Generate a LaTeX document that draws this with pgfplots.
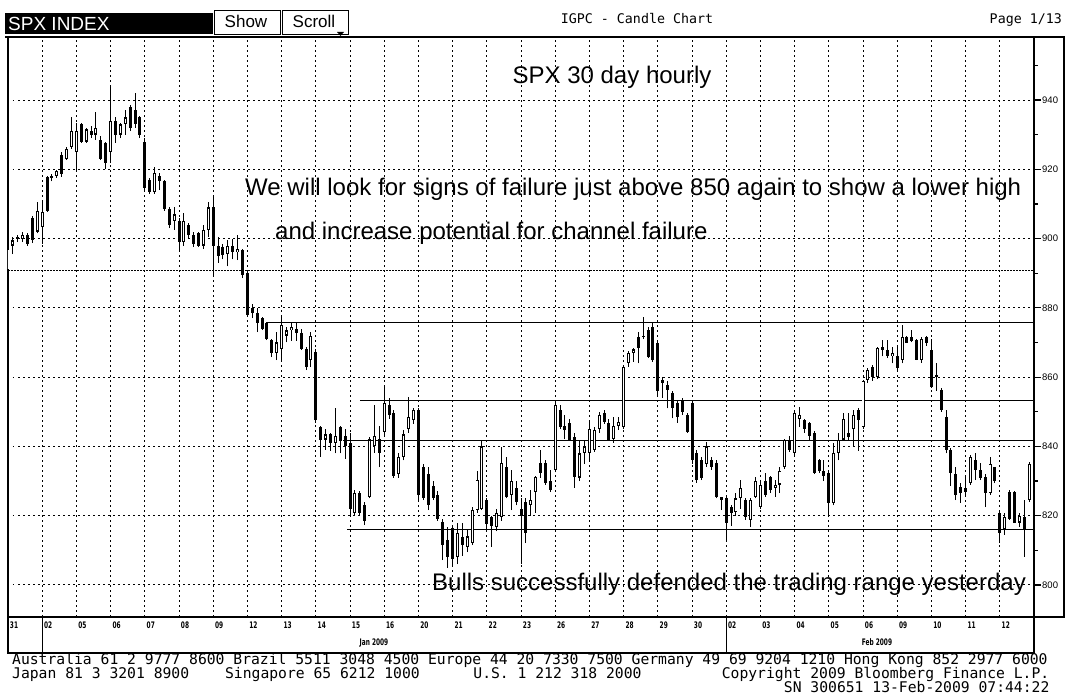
\documentclass[border=0pt]{standalone}
\usepackage{fontspec}
\setmainfont{Liberation Sans}
\newfontfamily\monof{DejaVu Sans Mono}
\newfontfamily\dayf[FakeStretch=0.65]{DejaVu Sans}
\usepackage{pgfplots}
\usepackage{pgfplotstable}
\pgfplotsset{compat=1.18}

\newcommand\ticksz{\fontsize{9.5}{9.5}\selectfont}
\newcommand\dayfs{\dayf\bfseries\fontsize{9}{9}\selectfont}
\newcommand\annot{\fontsize{24}{24}\selectfont}
\newcommand\mono{\monof\fontsize{14.7}{14.7}\selectfont}

% hourly candles, 7 per session: index, open, high, low, close
\pgfplotstableread{
i o h l c
0 891 897.6 890.9 897
1 898 900.5 895.5 899.5
2 900.5 901 899 900
3 900 902 899 901
4 901 901.5 898 898.5
5 906 906.5 898.7 899.5
6 902 910.7 901.5 908
7 903.4 910.7 898.5 907.7
8 917.8 918 907.7 908
9 917.5 918.5 916.5 918
10 918 919.8 917.5 919.5
11 924.1 925 917.8 918.5
12 923 926.4 922.7 926
13 926.5 935 926 931
14 925 933.5 919.8 931
15 933 933.5 927.6 928
16 928 932 927.6 931.5
17 931 932.5 929 930
18 930 936.5 928.5 932
19 928.5 929.5 922.7 923
20 927.6 928 920 921.8
21 925 943.8 921.8 934
22 934 935 927.6 930
23 930 933.5 929 933
24 933 937 930 935
25 938 938.5 931 932
26 937 942 932 933
27 935 935.5 929 930
28 928 929 914 914.5
29 917 917.5 913 913.5
30 913.5 920.7 913 919
31 918 919 914 916.5
32 916.5 917 908 908.5
33 908.5 909 903 904
34 905 909 902.5 907
35 905 906 896.7 899
36 899 907.5 898 905
37 904 904.5 900 901
38 901 902 897.5 898.5
39 901.5 902 897.5 898
40 898 904 897 902.5
41 902.5 910.5 900.5 909
42 909 912 889 898
43 898 900.5 893 895
44 897.6 898.5 894 895.3
45 895.5 899.5 892 898
46 898 900 894 896
47 896 901 893.8 897
48 896.7 897 888.6 889.5
49 890 891 877.4 878
50 880 881 877 878.5
51 878.5 880 873 875.6
52 877 877.4 873.6 874
53 875.6 876 870.7 871
54 870.7 871 865.8 867
55 867 873 864.9 870
56 868 877.4 864.9 875
57 872 874.5 870 873.5
58 873.5 875.6 870.5 874.5
59 874 876 870.5 872.7
60 872.7 874 867.8 868
61 868 868.7 862 863
62 865 873 862.9 872
63 867.2 868 846.8 847.5
64 845.6 846 837 841.8
65 842 845 839 843.5
66 843.5 844 838.8 841
67 841 851 838 843
68 845.6 846 838 841.5
69 843 845 836.5 840
70 841 844 820.2 822
71 820.8 827.5 820 826.5
72 826.5 827 820.2 820.8
73 823 824 817.3 818.5
74 825.4 842.7 825 842
75 840 852 838.1 843
76 842 846 834 838
77 844.2 857.4 843 852.5
78 852 854 848 849
79 849.6 850.5 830.9 831.5
80 832 838 831 837
81 837 844.7 836 843.5
82 845 854.3 844 848.5
83 847.6 851 846.5 850.5
84 850.5 851 824.5 826
85 834 835 824.5 825
86 832 834 821.6 823
87 828.5 830 824.5 825
88 826 827 818.5 819
89 818.2 819 807.2 811.5
90 813 816.7 805 808
91 816.4 817 805.2 807.5
92 808 818 806 815
93 813.8 818 808.5 811.5
94 811 816 809.5 814
95 812 822.5 811.5 821.6
96 821.6 833 820.8 830.3
97 822 841.8 821.6 840
98 824.5 825 815.9 817.5
99 819.6 820 811 817
100 816.7 822 815.5 820.8
101 819.6 839.8 818.5 835.2
102 834.1 836.9 825 825.4
103 826 833.2 821.6 830
104 828 830 823 824
105 822 825 806 820
106 824 825 812.1 815
107 823 827.4 820 824.5
108 826.8 831.5 820.8 831.2
109 835.2 839 831 832.3
110 835.2 836 829 829.4
111 830 833.2 826.8 827.5
112 833.2 853 832.5 852
113 850.5 852 845 845.6
114 846 849 842 844.7
115 846.8 848 841.8 842
116 842.7 844 828 831.2
117 831 841.8 830 838
118 838 841.8 835 840
119 838 847.6 836.1 845
120 839 845.5 838.5 844.7
121 845 850 843.9 849
122 849.6 850.5 846.5 847
123 846.8 848 841.8 842
124 842 848.5 841 846
125 846 848.5 844.7 847
126 845.6 863 845 862.9
127 864 867.5 863 867
128 867 868.5 864.4 868
129 871.6 873 864 868.4
130 872 877.4 871 871.6
131 873.6 874.5 865.5 865.8
132 874.5 876 864.5 865
133 869.8 870 854.3 856
134 859.2 860 854 858.3
135 857.7 859 851 856.3
136 855.4 856 848.1 851.1
137 852.5 853 846.8 848.5
138 853.4 854 849 850
139 849 849.5 844 844.2
140 852.5 853 835 836
141 838.1 839 829.5 830.3
142 836.1 837 830.3 831
143 835 841.3 834.1 840
144 836 837 833.2 834
145 835.2 836 825 825.4
146 824.5 825.5 821.6 825.4
147 825 825.4 813 818
148 822.5 823 817 820.8
149 821 826.5 820 825
150 825 830.3 822 828
151 824.5 825 818.8 819.5
152 818.8 825 816.7 824.5
153 825.4 831.2 825 830
154 822.5 830.3 822 829
155 830 832.3 825.4 826
156 831.2 831.5 826.5 827.5
157 828 830.3 825.4 829
158 829 834.1 826.5 833
159 834.1 842 833.5 841.8
160 841.8 843 838.5 839
161 838.1 850 837.5 849.6
162 848 851.4 845.6 849
163 847.6 848 843.9 845
164 846.8 847 841.8 843
165 843.9 844.5 832 832.3
166 836 836.5 832.3 833
167 833 836 830 831.5
168 832.3 833 819.6 823.7
169 823.7 841 823 838.1
170 838.1 844 836 842
171 842 849.6 841.8 848
172 843.9 849.6 841.8 842.7
173 845 850.5 840 849
174 850.5 851 838.8 847.6
175 845.6 859.2 845 859
176 859.2 862.5 858.3 862
177 862.9 863.5 859 860
178 860 868.7 859.5 868.5
179 868.7 870.7 866 867.8
180 867.8 870.7 865.5 866
181 866 868.7 864 867
182 866 868.7 862 862.6
183 864.9 875 864 871.6
184 871.6 872 869.8 869.9
185 871.5 873.6 870 870.3
186 870.7 871 864.9 865
187 865 871.6 864.1 871
188 871.6 872 869 870
189 867.8 871 857 857.1
190 860 864.1 856 860.5
191 856.3 857 850 850.5
192 848.5 850.5 838 839
193 839 839.5 828.5 832.3
194 832 834.1 824.5 826
195 828.3 829.5 823.7 826.5
196 828 831.2 825.4 826.8
197 829.4 837.5 829 836.9
198 836.1 838 830.3 833.2
199 833.2 835.2 830.3 831
200 831.2 832 822.5 826.5
201 826.5 836.9 826 835
202 834 834.1 829.4 830
203 820.8 821 812.1 815
204 816 820.8 814.5 819.6
205 826.8 827.5 818.8 819
206 826.8 827 817.9 818
207 818 820.8 816.7 820
208 819.6 824.5 808.1 816
209 824.5 835.5 824 835
}\candles

\begin{document}
\begin{tikzpicture}
\useasboundingbox (0,0) rectangle (1068pt,700pt);
\fill[white] (0,0) rectangle (1068pt,700pt);
\begin{axis}[
  at={(8pt,83pt)}, anchor=south west,
  scale only axis, width=1026pt, height=580pt,
  xmin=0, xmax=210, ymin=790.75, ymax=958.2,
  axis line style={black, line width=1.5pt},
  xtick={7,14,...,203}, xticklabels={},
  xtick style={draw=none},
  ytick={800,820,...,940},
  minor ytick={810,830,...,950},
  ytick pos=right, yticklabel pos=right,
  tick align=outside,
  major tick length=7pt, minor tick length=3.5pt,
  ytick style={black, line width=1.2pt},
  yticklabel style={font=\ticksz, inner sep=1pt},
  /pgf/number format/assume math mode=true,
  xmajorgrids, ymajorgrids,
  major grid style={black, line width=1pt, dash pattern=on 1.5pt off 3.5pt},
]
% range lines
\addplot[black, line width=1.2pt] coordinates {(53,875.8) (210,875.8)};
\addplot[black, line width=1.2pt] coordinates {(72,853.2) (210,853.2)};
\addplot[black, line width=1.2pt] coordinates {(68.6,841.6) (210,841.6)};
\addplot[black, line width=1.2pt] coordinates {(69.4,816.0) (210,816.0)};
\addplot[black, line width=1pt, dash pattern=on 2pt off 1pt] coordinates {(0,890.8) (210,890.8)};
% wicks
\addplot[draw=none, mark=none,
  error bars/.cd, y dir=plus, y explicit, error mark=none,
  error bar style={draw=black, line width=1pt}]
  table[x=i, y=l, y error plus expr=\thisrow{h}-\thisrow{l}] {\candles};
% bodies
\addplot[draw=none, mark=none,
  error bars/.cd, y dir=both, y explicit, error mark=none,
  error bar style={draw=black, line width=3pt}]
  table[x=i, y expr=(\thisrow{o}+\thisrow{c})/2, y error expr=abs(\thisrow{c}-\thisrow{o})/2] {\candles};
% hollow up candles
\addplot[draw=none, mark=none,
  restrict expr to domain={\thisrow{c}-\thisrow{o}}{1:1000},
  error bars/.cd, y dir=both, y explicit, error mark=none,
  error bar style={draw=white, line width=1.1pt}]
  table[x=i, y expr=(\thisrow{o}+\thisrow{c})/2, y error expr=abs(\thisrow{c}-\thisrow{o})/2-0.35] {\candles};
\end{axis}

\begin{scope}[x=1pt, y=-1pt, yshift=700pt]
% header
\fill[black] (5,13) rectangle (213,34);
\node[anchor=base west, inner sep=0, text=white, font=\fontsize{19}{19}\selectfont] at (8,31) {SPX INDEX};
\draw[line width=1pt] (214,11) rectangle (280,35);
\node[anchor=base, inner sep=0, font=\fontsize{17}{17}\selectfont] at (246,28) {Show};
\draw[line width=1pt] (282,11) rectangle (348,35);
\node[anchor=base, inner sep=0, font=\fontsize{17}{17}\selectfont] at (314,28) {Scroll};
\fill (337,32) -- (344,32) -- (340.5,36) -- cycle;
\node[anchor=base, inner sep=0, font=\monof\fontsize{13.3}{13.3}\selectfont] at (637,24) {IGPC - Candle Chart};
\node[anchor=base east, inner sep=0, font=\monof\fontsize{13.3}{13.3}\selectfont] at (1062,24) {Page 1/13};
\draw[line width=1.2pt] (5,37) -- (1064,37) -- (1064,617) -- (1034,617);

% annotations
\node[anchor=base, inner sep=0, font=\annot] at (612,84) {SPX 30 day hourly};
\node[anchor=base west, inner sep=0, font=\annot] at (245,196) {We will look for signs of failure just above 850 again to show a lower high};
\node[anchor=base west, inner sep=0, font=\annot] at (275,240) {and increase potential for channel failure};
\node[anchor=base west, inner sep=0, font=\annot] at (432,591) {Bulls successfully defended the trading range yesterday};

% date strip
\draw[line width=1.5pt] (8,617) -- (8,653) -- (1034,653) -- (1034,617);
\draw[line width=1.2pt] (42.2,617) -- (42.2,653);
\draw[line width=1.2pt] (726.2,617) -- (726.2,653);
\foreach \t [count=\k from 0] in {31,02,05,06,07,08,09,12,13,14,15,16,20,21,22,23,26,27,28,29,30,02,03,04,05,06,09,10,11,12}
  \node[anchor=base, inner sep=0, font=\dayfs] at ({8+34.2*\k+6},629) {\t};
\node[anchor=base, inner sep=0, font=\dayfs] at (374,646) {Jan 2009};
\node[anchor=base, inner sep=0, font=\dayfs] at (877,646) {Feb 2009};

% footer
\node[anchor=base west, inner sep=0, font=\mono] at (12,665) {Australia 61 2 9777 8600 Brazil 5511 3048 4500 Europe 44 20 7330 7500 Germany 49 69 9204 1210 Hong Kong 852 2977 6000};
\node[anchor=base west, inner sep=0, font=\mono] at (12,679) {Japan 81 3 3201 8900};
\node[anchor=base west, inner sep=0, font=\mono] at (224.9,679) {Singapore 65 6212 1000};
\node[anchor=base west, inner sep=0, font=\mono] at (473.2,679) {U.S. 1 212 318 2000};
\node[anchor=base west, inner sep=0, font=\mono] at (721.6,679) {Copyright 2009 Bloomberg Finance L.P.};
\node[anchor=base west, inner sep=0, font=\mono] at (783.7,693) {SN 300651 13-Feb-2009 07:44:22};
\end{scope}
\end{tikzpicture}
\end{document}
